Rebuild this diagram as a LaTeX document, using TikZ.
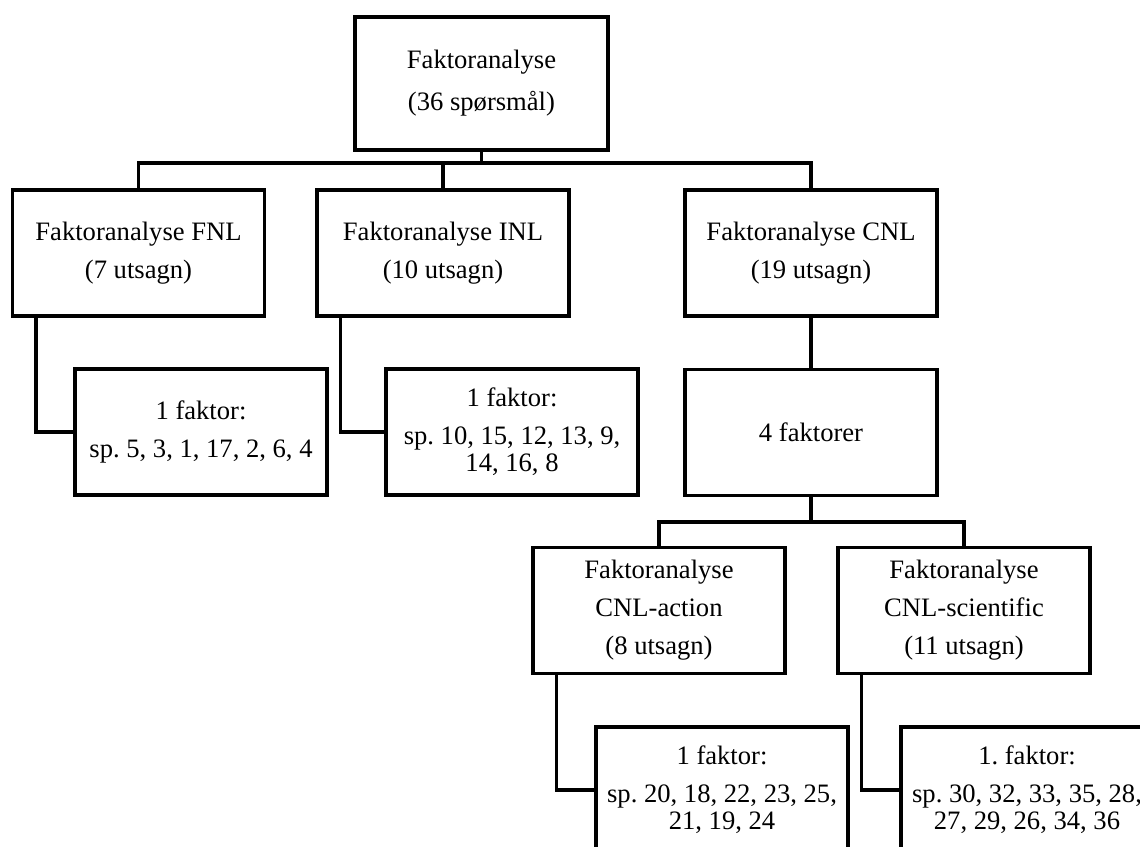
\documentclass[tikz,border=0pt]{standalone}
\usepackage{fontspec}
\setmainfont{Liberation Serif}
\usetikzlibrary{positioning, calc}
\frenchspacing

\begin{document}
\begin{tikzpicture}[
    x=0.5pt, y=-0.5pt,
    block/.style={rectangle, draw, minimum width=126pt, minimum height=63pt, align=center, font=\fontsize{13.3pt}{19pt}\selectfont, line width=1.7pt, inner sep=2pt},
    conn/.style={line width=1.7pt},
  ]
    \useasboundingbox (0,0) rectangle (1140,846);
    \clip (0,0) rectangle (1140,846);

    \node[block, minimum width=126.5pt, minimum height=66.5pt] (root) at (481.5,83.5) {Faktoranalyse\\[2pt](36 spørsmål)};
    \node[block] (fnl) at (138.5,253) {Faktoranalyse FNL\\(7 utsagn)};
    \node[block] (inl) at (443,253) {Faktoranalyse INL\\(10 utsagn)};
    \node[block] (cnl) at (811,253) {Faktoranalyse CNL\\(19 utsagn)};
    \node[block] (fnlsub) at (201,432) {1 faktor:\\sp. 5, 3, 1, 17, 2, 6, 4};
    \node[block] (inlsub) at (512,432) {1 faktor:\\sp. 10, 15, 12, 13, 9,\\[-5.5pt]14, 16, 8};
    \node[block, below=25pt of cnl] (fourfac) {4 faktorer};
    \node[block] (act) at (659,610.5) {Faktoranalyse\\CNL-action\\(8 utsagn)};
    \node[block] (sci) at (964,610.5) {Faktoranalyse\\CNL-scientific\\(11 utsagn)};
    \node[block] (actsub) at (722,790) {1 faktor:\\sp. 20, 18, 22, 23, 25,\\[-5.5pt]21, 19, 24};
    \node[block] (scisub) at (1027,790) {1. faktor:\\sp. 30, 32, 33, 35, 28,\\[-5.5pt]27, 29, 26, 34, 36};

    \coordinate (bus1) at (0,163);
    \coordinate (bus2) at (0,522);

    % top level
    \draw[conn] (root.south) -- (root.south |- bus1);
    \draw[conn] (fnl.north) -- (fnl.north |- bus1) -- (cnl.north |- bus1) -- (cnl.north);
    \draw[conn] (inl.north) -- (inl.north |- bus1);

    % side branches
    \draw[conn] ($(fnl.south west)+(25,0)$) |- (fnlsub.west);
    \draw[conn] ($(inl.south west)+(25,0)$) |- (inlsub.west);
    \draw[conn] (cnl) -- (fourfac);

    % CNL split
    \draw[conn] (fourfac.south) -- (fourfac.south |- bus2);
    \draw[conn] (act.north) -- (act.north |- bus2) -- (sci.north |- bus2) -- (sci.north);
    \draw[conn] ($(act.south west)+(25,0)$) |- (actsub.west);
    \draw[conn] ($(sci.south west)+(25,0)$) |- (scisub.west);
  \end{tikzpicture}
\end{document}
